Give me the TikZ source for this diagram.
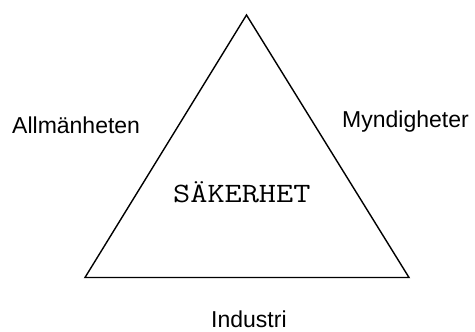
\documentclass[tikz,border=0pt]{standalone}
\usepackage{fontspec}
\setmainfont{Liberation Sans}
\begin{document}
\begin{tikzpicture}[x=1pt,y=-1pt,
  lbl/.style={inner sep=0pt,anchor=base west,font=\fontsize{23}{25}\selectfont},
  mid/.style={inner sep=0pt,anchor=base west,font=\ttfamily\fontsize{28}{30}\selectfont},
  edge/.style={draw=black,line width=1.4pt,line join=miter}]
\useasboundingbox (0,0) rectangle (475,332);
\fill[white] (0,0) rectangle (475,332);
\coordinate (apex) at (246.5,15);
\coordinate (bl) at (85,277.5);
\coordinate (br) at (409,277.5);
\draw[edge] (apex) -- (bl) -- (br) -- cycle;
\node[lbl] (allm) at (12,133) {Allmänheten};
\node[lbl] (mynd) at (342,128) {Myndigheter};
\node[lbl] (ind) at (211,327) {Industri};
\node[mid] (sak) at (173,202) {\scalebox{1.19}[1]{SÄKERHET}};
\end{tikzpicture}
\end{document}
